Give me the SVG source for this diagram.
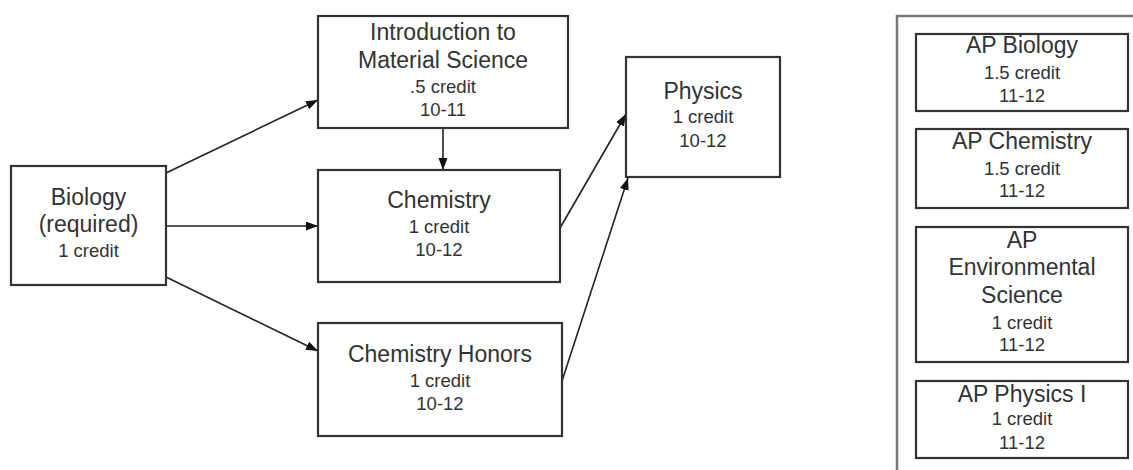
<svg xmlns="http://www.w3.org/2000/svg" width="1133" height="470" viewBox="0 0 1133 470">
<style>
  .box { fill: #ffffff; stroke: #333333; stroke-width: 2.2; }
  .t { font-family: "Liberation Sans", Arial, sans-serif; fill: #333333; text-anchor: middle; }
  .lg { font-size: 23px; }
  .sm { font-size: 18.5px; }
  .conn { fill: none; stroke: #222222; stroke-width: 1.6; marker-end: url(#arrow); }
  .panel { fill: none; stroke: #777777; stroke-width: 2.5; }
</style>
<defs>
  <marker id="arrow" markerUnits="userSpaceOnUse" markerWidth="13" markerHeight="10" refX="12" refY="4.5" orient="auto">
    <path d="M0,0 L12,4.5 L0,9 z" fill="#111111"/>
  </marker>
</defs>
<rect width="1133" height="470" fill="#ffffff"/>

<g id="connectors">
  <path class="conn" d="M166,173 L318,100"/>
  <path class="conn" d="M166,226 L318,226"/>
  <path class="conn" d="M443,128 L443,170"/>
  <path class="conn" d="M166,277 L318,351"/>
  <path class="conn" d="M560,228 L626,114"/>
  <path class="conn" d="M562,381 L628,178"/>
</g>

<g id="biology">
  <rect class="box" x="11" y="166" width="155" height="119"/>
  <text class="t lg" x="88.5" y="205">Biology</text>
  <text class="t lg" x="88.5" y="232">(required)</text>
  <text class="t sm" x="88.5" y="257">1 credit</text>
</g>

<g id="intro-material-science">
  <rect class="box" x="318" y="16" width="250" height="112"/>
  <text class="t lg" x="443" y="40">Introduction to</text>
  <text class="t lg" x="443" y="68">Material Science</text>
  <text class="t sm" x="443" y="93">.5 credit</text>
  <text class="t sm" x="443" y="116">10-11</text>
</g>

<g id="chemistry">
  <rect class="box" x="318" y="170" width="242" height="112"/>
  <text class="t lg" x="439" y="208">Chemistry</text>
  <text class="t sm" x="439" y="233">1 credit</text>
  <text class="t sm" x="439" y="256">10-12</text>
</g>

<g id="chemistry-honors">
  <rect class="box" x="318" y="323" width="244" height="113"/>
  <text class="t lg" x="440" y="362">Chemistry Honors</text>
  <text class="t sm" x="440" y="387">1 credit</text>
  <text class="t sm" x="440" y="410">10-12</text>
</g>

<g id="physics">
  <rect class="box" x="626" y="57" width="154" height="120"/>
  <text class="t lg" x="703" y="99">Physics</text>
  <text class="t sm" x="703" y="123">1 credit</text>
  <text class="t sm" x="703" y="147">10-12</text>
</g>

<g id="ap-panel">
  <path class="panel" d="M897,470 V16 H1133"/>
</g>

<g id="ap-biology">
  <rect class="box" x="916" y="34" width="212" height="77"/>
  <text class="t lg" x="1022" y="53">AP Biology</text>
  <text class="t sm" x="1022" y="79">1.5 credit</text>
  <text class="t sm" x="1022" y="102">11-12</text>
</g>

<g id="ap-chemistry">
  <rect class="box" x="916" y="129" width="212" height="79"/>
  <text class="t lg" x="1022" y="149">AP Chemistry</text>
  <text class="t sm" x="1022" y="175">1.5 credit</text>
  <text class="t sm" x="1022" y="197">11-12</text>
</g>

<g id="ap-environmental-science">
  <rect class="box" x="916" y="227" width="212" height="135"/>
  <text class="t lg" x="1022" y="248">AP</text>
  <text class="t lg" x="1022" y="275">Environmental</text>
  <text class="t lg" x="1022" y="303">Science</text>
  <text class="t sm" x="1022" y="329">1 credit</text>
  <text class="t sm" x="1022" y="351">11-12</text>
</g>

<g id="ap-physics">
  <rect class="box" x="916" y="381" width="212" height="77"/>
  <text class="t lg" x="1022" y="402">AP Physics I</text>
  <text class="t sm" x="1022" y="425">1 credit</text>
  <text class="t sm" x="1022" y="449">11-12</text>
</g>
</svg>
